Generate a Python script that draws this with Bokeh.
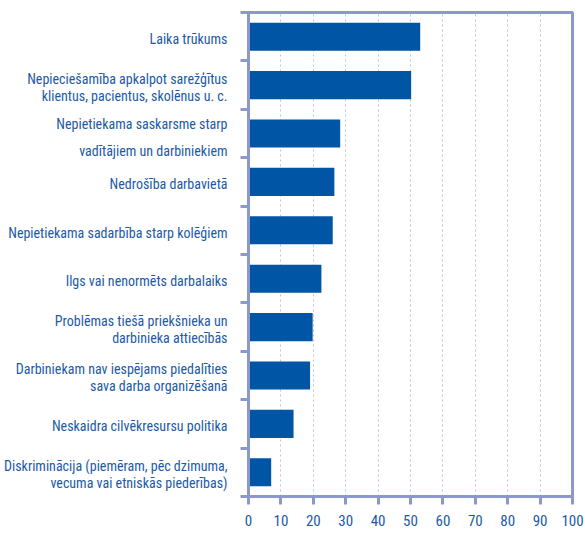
from bokeh.plotting import figure
from bokeh.models import FixedTicker, Range1d
from bokeh.embed import file_html
from bokeh.resources import INLINE

categories = [
    "Laika trūkums",
    "Nepieciešamība apkalpot sarežģītus\nklientus, pacientus, skolēnus u. c.",
    "Nepietiekama saskarsme starp\nvadītājiem un darbiniekiem",
    "Nedrošība darbavietā",
    "Nepietiekama sadarbība starp kolēģiem",
    "Ilgs vai nenormēts darbalaiks",
    "Problēmas tiešā priekšnieka un\ndarbinieka attiecībās",
    "Darbiniekam nav iespējams piedalīties\nsava darba organizēšanā",
    "Neskaidra cilvēkresursu politika",
    "Diskriminācija (piemēram, pēc dzimuma,\nvecuma vai etniskās piederības)",
]
values = [53.0, 50.2, 28.3, 26.5, 26.0, 22.5, 19.8, 19.0, 13.9, 7.0]
x_ticks = [0, 10, 20, 30, 40, 50, 60, 70, 80, 90, 100]

# layout: line gap (in category units) for multi-line labels
line_gap = [0.35, 0.35, 0.56, 0.35, 0.35, 0.35, 0.35, 0.35, 0.35, 0.35]
label_shift = [-0.05, -0.04, -0.08, -0.05, -0.05, -0.05, -0.04, -0.05, -0.05, -0.04]

TEXT = "#1c5aa6"
AXIS = "#8b98cb"
GRID = "#b9c0e3"
BAR = "#0055a4"
FONT = "Roboto Condensed, Open Sans Condensed, Liberation Sans Narrow, Roboto, sans-serif"

n = len(categories)
centers = [n - 0.5 - i for i in range(n)]

p = figure(width=585, height=544, output_backend="svg", toolbar_location=None,
           x_range=Range1d(0, 100), y_range=Range1d(0, n),
           min_border_left=248, min_border_right=13, min_border_top=12,
           min_border_bottom=48)

p.hbar(y=centers, right=values, left=0, height=0.58, color=BAR, line_color=None)

ticks = []
overrides = {}
for c, lab, g, s in zip(centers, categories, line_gap, label_shift):
    lines = lab.split("\n")
    k = len(lines)
    for j, ln in enumerate(lines):
        t = round(c + s + (k - 1) / 2 * g - j * g, 3)
        ticks.append(t)
        overrides[t] = ln

p.yaxis.ticker = FixedTicker(ticks=ticks, minor_ticks=list(range(0, n + 1)))
p.yaxis.major_label_overrides = overrides
p.yaxis.major_tick_line_color = None
p.yaxis.minor_tick_line_color = AXIS
p.yaxis.minor_tick_line_width = 3
p.yaxis.minor_tick_out = 8
p.yaxis.minor_tick_in = 0
p.yaxis.axis_line_color = AXIS
p.yaxis.axis_line_width = 3
p.yaxis.major_label_standoff = 13
p.yaxis.major_label_text_font = FONT
p.yaxis.major_label_text_font_size = "14px"
p.yaxis.major_label_text_color = TEXT

p.xaxis.ticker = FixedTicker(ticks=x_ticks)
p.xaxis.major_tick_line_color = AXIS
p.xaxis.major_tick_line_width = 3
p.xaxis.major_tick_out = 8
p.xaxis.major_tick_in = 0
p.xaxis.minor_tick_line_color = None
p.xaxis.axis_line_color = AXIS
p.xaxis.axis_line_width = 3
p.xaxis.major_label_standoff = 10
p.xaxis.major_label_text_font = FONT
p.xaxis.major_label_text_font_size = "15px"
p.xaxis.major_label_text_color = TEXT

p.ygrid.grid_line_color = None
p.xgrid.ticker = FixedTicker(ticks=x_ticks[1:-1])
p.xgrid.grid_line_color = GRID
p.xgrid.grid_line_dash = "2 3"
p.xgrid.grid_line_width = 1

p.outline_line_color = AXIS
p.outline_line_width = 3
p.outline_line_alpha = 1

open("out.html", "w").write(file_html(p, INLINE))
